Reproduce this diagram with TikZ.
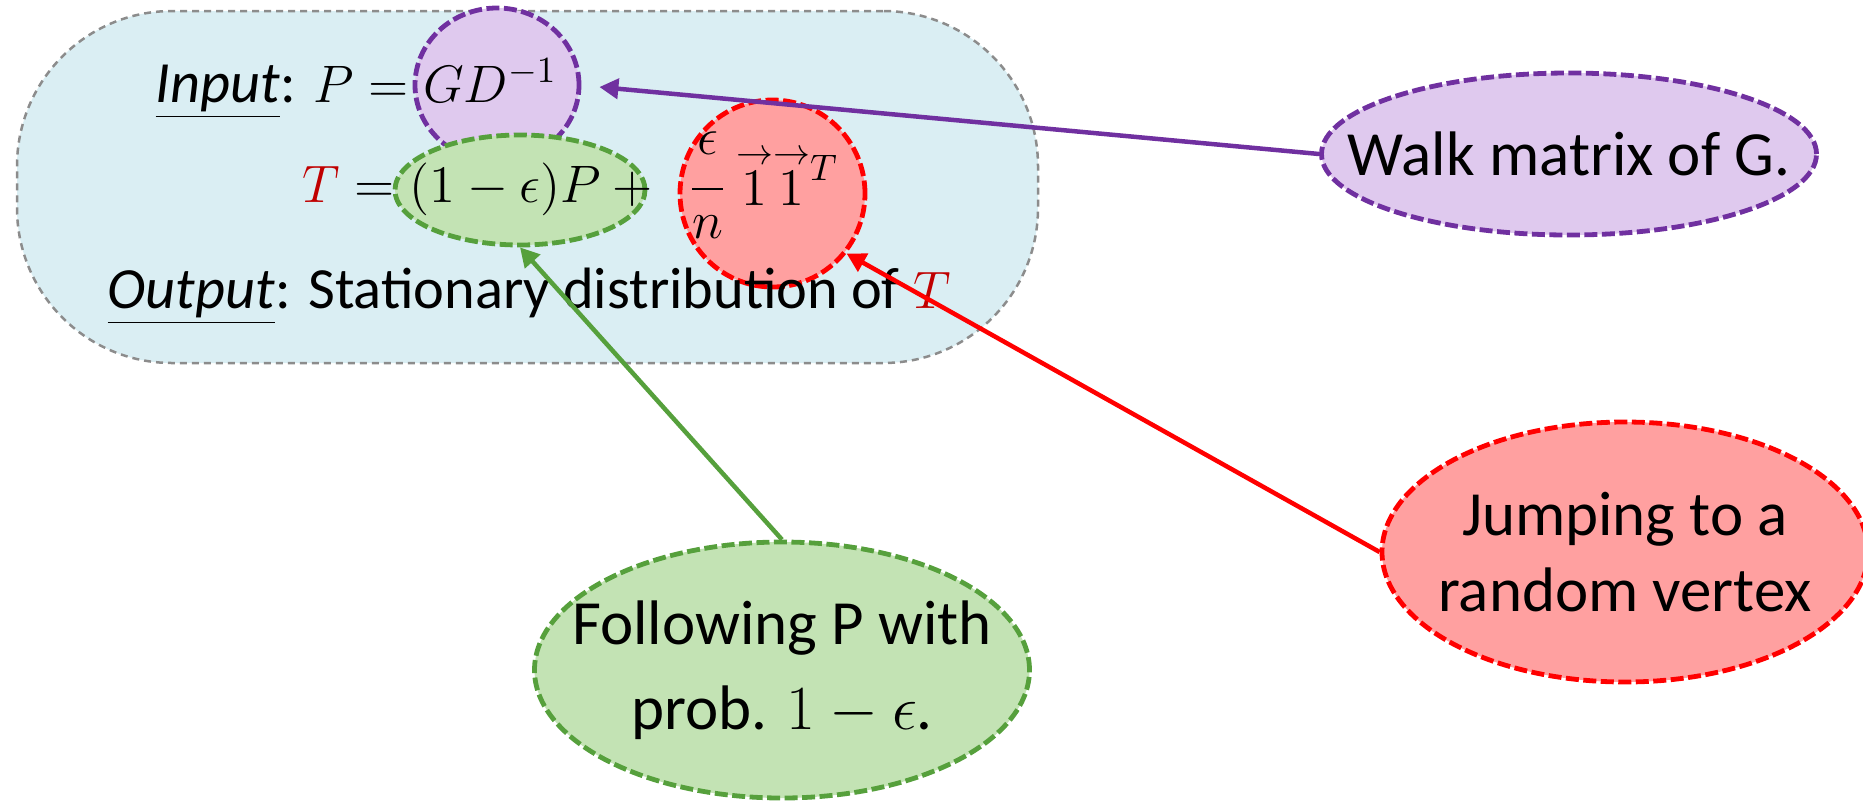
\documentclass[tikz,border=0pt]{standalone}
\usepackage{fix-cm}
\usepackage{fontspec}
\setmainfont{Carlito}
\usetikzlibrary{shapes.geometric,arrows.meta}
\definecolor{bgfill}{RGB}{218,238,243}
\definecolor{bgline}{RGB}{140,140,140}
\definecolor{pfill}{RGB}{223,201,238}
\definecolor{pline}{RGB}{112,48,160}
\definecolor{gfill}{RGB}{195,227,180}
\definecolor{gline}{RGB}{86,160,60}
\definecolor{rfill}{RGB}{255,160,160}
\definecolor{rline}{RGB}{255,0,0}
\definecolor{tred}{RGB}{192,0,0}
\newcommand{\mthsz}{\fontsize{15pt}{18pt}\selectfont}
\newcommand{\vone}{\mathord{\stackrel{\rightarrow}{1}}}
\begin{document}
\begin{tikzpicture}[x=0.1mm,y=-0.1mm,
  blob/.style={ellipse, inner sep=0pt, line width=0.48mm, dash pattern=on 1.3mm off 0.45mm},
  pblob/.style={blob, draw=pline, fill=pfill},
  gblob/.style={blob, draw=gline, fill=gfill},
  rblob/.style={blob, draw=rline, fill=rfill},
  intext/.style={anchor=base west, inner sep=0pt, font=\fontsize{16.6pt}{19pt}\selectfont},
  outtext/.style={align=center, inner sep=0pt, font=\fontsize{17.9pt}{21.5pt}\selectfont},
  conn/.style={line width=0.45mm, -{Triangle[length=1.9mm,width=2mm]}},
]
\useasboundingbox (0,0) rectangle (1863,801);
\node[draw=bgline, fill=bgfill, rounded corners=15.5mm, minimum width=102.1mm, minimum height=35.2mm,
      inner sep=0pt, line width=0.25mm, dash pattern=on 0.7mm off 0.5mm] (bg) at (527.5,187) {};
\node[pblob, minimum width=16.4mm, minimum height=15.4mm] (purple) at (497,85) {};
\node[gblob, minimum width=25mm, minimum height=11mm] (green) at (520,190) {};
\node[rblob, minimum width=18.5mm, minimum height=18.7mm] (red) at (772.5,193.5) {};

\node[intext] (inl) at (155,102) {\underline{\textit{Input}}: {\mthsz$P = GD^{-1}$}};
\node[intext] (tl) at (302,202) {\mthsz$\displaystyle \textcolor{tred}{T} = (1-\epsilon)P + \mkern8mu\frac{\raisebox{1.2mm}{$\epsilon$}}{n}\mkern3mu\vone\vone{\vphantom{1}}^{T}$};
\node[intext] (outl) at (107,308) {\underline{\textit{Output}}: Stationary distribution of {\mthsz\textcolor{tred}{$T$}}};

\node[pblob, minimum width=49.5mm, minimum height=16.2mm] (walk) at (1569,154) {};
\node[outtext] (walkt) at (walk) {Walk matrix of G.};
\node[rblob, minimum width=48.6mm, minimum height=26mm] (jump) at (1625,552) {};
\node[outtext] (jumpt) at (jump) {Jumping to a\\random vertex};
\node[gblob, minimum width=49.5mm, minimum height=25.6mm] (follow) at (782,670) {};
\node[outtext] (followt) at (follow) {Following P with\\[2.7pt]prob. $1-\epsilon$.};

\coordinate (ptip) at ([shift={(18,2)}]purple.east);
\draw[conn, pline] (walk.west) -- (ptip);
\draw[conn, gline] (follow.north) -- (green.south);
\draw[conn, rline] (jump.west) -- (red.-39);
\end{tikzpicture}
\end{document}
